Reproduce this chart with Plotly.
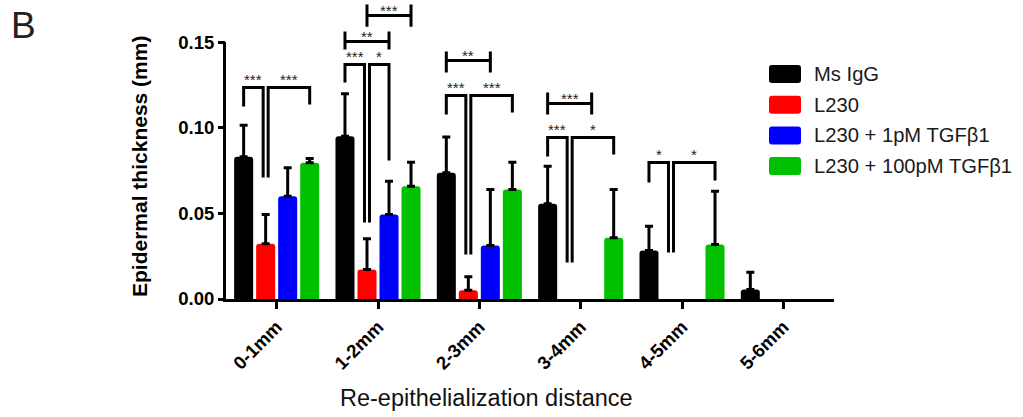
import plotly.graph_objects as go

# ---------------- data ----------------
categories = ["0-1mm", "1-2mm", "2-3mm", "3-4mm", "4-5mm", "5-6mm"]
series_names = ["Ms IgG", "L230", "L230 + 1pM TGFβ1", "L230 + 100pM TGFβ1"]

ms_igg = [0.0830, 0.0950, 0.0737, 0.0556, 0.0283, 0.0055]
ms_igg_err = [0.0185, 0.0248, 0.0208, 0.0219, 0.0142, 0.0101]
l230 = [0.0322, 0.0172, 0.0051, None, None, None]
l230_err = [0.0171, 0.0179, 0.0079, None, None, None]
l230_1pm = [0.0600, 0.0493, 0.0312, None, None, None]
l230_1pm_err = [0.0166, 0.0195, 0.0327, None, None, None]
l230_100pm = [0.0795, 0.0658, 0.0639, 0.0357, 0.0318, None]
l230_100pm_err = [0.0025, 0.0141, 0.0160, 0.0282, 0.0311, None]

y_tick_vals = [0.00, 0.05, 0.10, 0.15]
y_tick_text = ["0.00", "0.05", "0.10", "0.15"]

# significance brackets with legs: (group, bar_left, bar_right, top, left_leg_bottom, right_leg_bottom, label)
arm_brackets = [
    (0, 0, 1, 0.1235, 0.1124, 0.0709, "***"),
    (0, 1, 3, 0.1235, 0.0709, 0.1135, "***"),
    (1, 0, 1, 0.1369, 0.1264, 0.0447, "***"),
    (1, 1, 2, 0.1369, 0.0447, 0.0809, "*"),
    (2, 0, 1, 0.1188, 0.1077, 0.0260, "***"),
    (2, 1, 3, 0.1188, 0.0260, 0.1089, "***"),
    (3, 0, 1, 0.0943, 0.0832, 0.0213, "***"),
    (3, 1, 3, 0.0943, 0.0213, 0.0844, "*"),
    (4, 0, 1, 0.0797, 0.0680, 0.0271, "*"),
    (4, 1, 3, 0.0797, 0.0271, 0.0692, "*"),
]
# significance spans |----|: (group, bar_left, bar_right, line, end_top, end_bottom, label)
span_brackets = [
    (1, 0, 2, 0.1503, 0.1562, 0.1457, "**"),
    (1, 1, 3, 0.1655, 0.1719, 0.1590, "***"),
    (2, 0, 2, 0.1392, 0.1445, 0.1322, "**"),
    (3, 0, 2, 0.1141, 0.1206, 0.1077, "***"),
]

colors = ["#000000", "#ff0000", "#0000ff", "#00c000"]

# ---------------- layout geometry ----------------
W, H = 1023, 417
PL, PR, PT, PB = 226, 834, 4, 299
Y_MAX = (PB - PT) / 1713.0
BARGAP = 0.131
GROUPGAP = 0.136
SLOT = (1 - BARGAP) / 4
PX_PER_CAT = (PR - PL) / 6.0
FONT = "Liberation Sans, Arial, sans-serif"


def px_x(px):
    return (px - PL) / (PR - PL)


def px_y(py):
    return (PB - py) / (PB - PT)


def bar_x(g, k):
    return g + (k - 1.5) * SLOT


fig = go.Figure()
values = [ms_igg, l230, l230_1pm, l230_100pm]
errors = [ms_igg_err, l230_err, l230_1pm_err, l230_100pm_err]
for k in range(4):
    fig.add_trace(go.Bar(
        x=list(range(len(categories))), y=values[k], name=series_names[k],
        marker=dict(color=colors[k], line=dict(width=0), cornerradius=3),
        error_y=dict(type="data", array=errors[k], symmetric=False,
                     arrayminus=[0] * len(categories),
                     color="#000000", thickness=3, width=4),
        showlegend=False,
    ))

shapes = []
annotations = []
off = 2.5 / PX_PER_CAT
line_style = dict(color="#000000", width=3)
star_font = dict(family=FONT, size=15, color="#222222")

for g, a, b, top, lb, rb, lab in arm_brackets:
    xl = bar_x(g, a) + (off if a == 1 else 0)
    xr = bar_x(g, b) - (off if b == 1 else 0)
    shapes.append(dict(type="path", xref="x", yref="y",
                       path=f"M {xl},{lb} L {xl},{top} L {xr},{top} L {xr},{rb}",
                       line=line_style))
    annotations.append(dict(x=(xl + xr) / 2, y=top, xref="x", yref="y", text=lab,
                            showarrow=False, yanchor="middle", yshift=8,
                            font=star_font))

for g, a, b, ly, et, eb, lab in span_brackets:
    xl = bar_x(g, a)
    xr = bar_x(g, b)
    shapes.append(dict(type="path", xref="x", yref="y",
                       path=(f"M {xl},{et} L {xl},{eb} M {xl},{ly} L {xr},{ly} "
                             f"M {xr},{et} L {xr},{eb}"),
                       line=line_style))
    annotations.append(dict(x=(xl + xr) / 2, y=ly, xref="x", yref="y", text=lab,
                            showarrow=False, yanchor="middle", yshift=5,
                            font=star_font))

# y axis line (stops at 0.15)
shapes.append(dict(type="line", xref="paper", yref="paper",
                   x0=px_x(PL - 1.5), x1=px_x(PL - 1.5),
                   y0=px_y(PB + 3), y1=px_y(PB - 0.15 * 1713),
                   line=line_style))

# custom legend
for i, name in enumerate(series_names):
    cy = 74 + 30.7 * i
    x0, x1 = px_x(769), px_x(801)
    y0, y1 = px_y(cy + 9), px_y(cy - 9)
    rx, ry = 3 / (PR - PL), 3 / (PB - PT)
    path = (f"M {x0+rx},{y0} L {x1-rx},{y0} Q {x1},{y0} {x1},{y0+ry} "
            f"L {x1},{y1-ry} Q {x1},{y1} {x1-rx},{y1} L {x0+rx},{y1} "
            f"Q {x0},{y1} {x0},{y1-ry} L {x0},{y0+ry} Q {x0},{y0} {x0+rx},{y0} Z")
    shapes.append(dict(type="path", xref="paper", yref="paper", path=path,
                       fillcolor=colors[i], line=dict(width=0)))
    annotations.append(dict(x=px_x(812), y=px_y(cy), xref="paper", yref="paper",
                            text=name, showarrow=False, xanchor="left", yanchor="middle",
                            font=dict(family=FONT, size=20.2, color="#1a1a1a")))

# titles and panel letter
annotations.append(dict(x=px_x(140), y=px_y(167), xref="paper", yref="paper",
                        text="Epidermal thickness (mm)", textangle=-90, showarrow=False,
                        xanchor="center", yanchor="middle",
                        font=dict(family=FONT, size=21, color="#000000", weight="bold")))
annotations.append(dict(x=px_x(486), y=px_y(398), xref="paper", yref="paper",
                        text="Re-epithelialization distance", showarrow=False,
                        xanchor="center", yanchor="middle",
                        font=dict(family=FONT, size=23.5, color="#111111")))
annotations.append(dict(x=px_x(9), y=px_y(3), xref="paper", yref="paper",
                        text="B", showarrow=False, xanchor="left", yanchor="top",
                        font=dict(family=FONT, size=37, color="#222222")))

fig.update_layout(
    width=W, height=H,
    margin=dict(l=PL, r=W - PR, t=PT, b=H - PB, autoexpand=False),
    paper_bgcolor="white", plot_bgcolor="white",
    barmode="group", bargap=BARGAP, bargroupgap=GROUPGAP,
    shapes=shapes, annotations=annotations,
    xaxis=dict(range=[-0.5, 5.5], tickvals=list(range(len(categories))),
               ticktext=categories, tickangle=-45, showgrid=False, zeroline=False,
               showline=True, linecolor="#000000", linewidth=3,
               ticks="outside", ticklen=7, tickwidth=3, tickcolor="#000000",
               tickfont=dict(family=FONT, size=18.5, color="#000000", weight="bold"),
               automargin=False),
    yaxis=dict(range=[0, Y_MAX], tickvals=y_tick_vals, ticktext=y_tick_text,
               showgrid=False, zeroline=False, showline=False,
               ticks="outside", ticklen=7, tickwidth=3, tickcolor="#000000",
               tickfont=dict(family=FONT, size=18.5, color="#000000", weight="bold"),
               automargin=False),
)

fig.write_html(
    "out.html",
    config={"displayModeBar": False},
    post_script="document.body.style.margin='0';document.body.style.overflow='hidden';",
)
